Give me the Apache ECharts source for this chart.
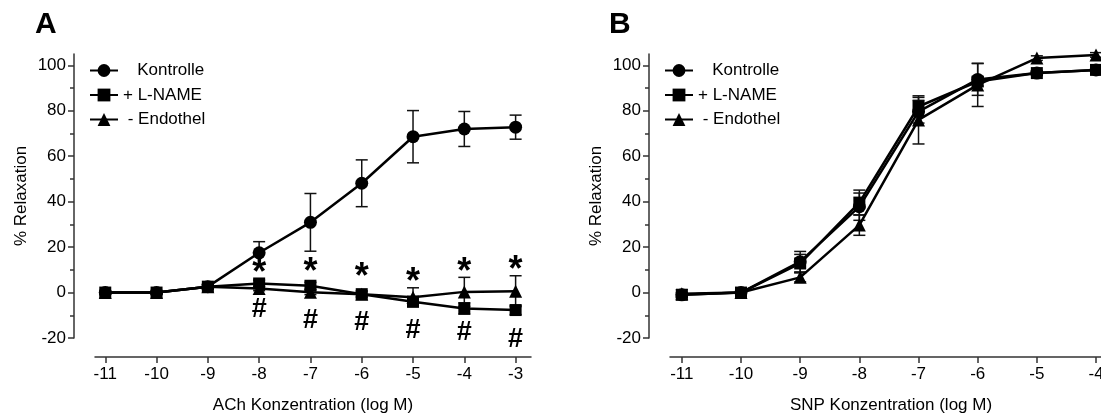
<!DOCTYPE html>
<html>
<head>
<meta charset="utf-8">
<script src="https://cdn.jsdelivr.net/npm/echarts@6/dist/echarts.min.js"></script>
<style>
  html, body { margin: 0; padding: 0; background: #fff; }
  #chart { width: 1101px; height: 414px; }
</style>
</head>
<body>
<div id="chart"></div>
<script>
// Panel A: ACh
const concA = [-11, -10, -9, -8, -7, -6, -5, -4, -3]
const kontrolleA = [0, 0, 2.6, 17.5, 30.9, 48.1, 68.6, 72.0, 72.8]
const kontrolleSemA = [0.5, 0.5, 1, 4.9, 12.7, 10.3, 11.5, 7.7, 5.3]
const lnameA = [0, 0, 2.6, 4.0, 3.0, -0.7, -4.0, -7.0, -7.7]
const lnameSemA = [0.5, 0.5, 1, 1.5, 1.5, 1.5, 1.5, 2.5, 2]
const endoA = [0, 0, 2.6, 1.8, 0.1, -0.7, -2.1, 0.3, 0.6]
const endoSemA = [0.5, 0.5, 1, 1, 1, 1, 4.2, 6.4, 6.8]
// significance marks (*, #)
const starX = [-8, -7, -6, -5, -4, -3]
const starY = [11.4, 11.8, 9.6, 7.3, 11.8, 12.6]
const hashY = [-7.0, -11.7, -12.9, -16.2, -17.3, -20.2]

// Panel B: SNP
const concB = [-11, -10, -9, -8, -7, -6, -5, -4]
const kontrolleB = [-1, 0, 13.6, 37.8, 79.6, 93.8, 96.6, 98.0]
const kontrolleSemB = [1, 0.5, 4.5, 6, 5, 7, 1, 1]
const lnameB = [-1, 0, 12.8, 39.6, 81.9, 92.9, 96.6, 98.0]
const lnameSemB = [1, 0.5, 4, 5.5, 4, 2, 1, 1]
const endoB = [-0.5, 0, 6.7, 29.7, 76.0, 91.4, 103.2, 104.6]
const endoSemB = [1.8, 0.5, 2, 4.5, 10.6, 9.5, 1, 1]

const yTicks = [-20, 0, 20, 40, 60, 80, 100]
const yMinorTicks = [-10, 10, 30, 50, 70, 90]
const xTicksA = [-11, -10, -9, -8, -7, -6, -5, -4, -3]
const xTicksB = [-11, -10, -9, -8, -7, -6, -5, -4]

const names = ['   Kontrolle', '+ L-NAME', ' - Endothel']
const font = 'Liberation Sans, Arial, sans-serif'

const pairs = (xs, ys) => xs.map((x, i) => [x, ys[i]])
const errData = (xs, ys, sem) => xs.map((x, i) => [x, ys[i] - sem[i], ys[i] + sem[i]])

const renderErr = (params, api) => {
  const lo = api.coord([api.value(0), api.value(1)])
  const hi = api.coord([api.value(0), api.value(2)])
  const w = 6
  const st = { stroke: '#111', lineWidth: 1.5 }
  return {
    type: 'group',
    children: [
      { type: 'line', shape: { x1: hi[0], y1: hi[1], x2: lo[0], y2: lo[1] }, style: st },
      { type: 'line', shape: { x1: hi[0] - w, y1: hi[1], x2: hi[0] + w, y2: hi[1] }, style: st },
      { type: 'line', shape: { x1: lo[0] - w, y1: lo[1], x2: lo[0] + w, y2: lo[1] }, style: st }
    ]
  }
}

const lineSeries = (name, symbol, size, data, axis) => ({
  name: name,
  type: 'line',
  xAxisIndex: axis,
  yAxisIndex: axis * 2,
  data: data,
  symbol: symbol,
  symbolSize: size,
  clip: false,
  lineStyle: { color: '#000', width: 2.5 },
  itemStyle: { color: '#000' },
  z: 5
})

const errSeries = (data, axis) => ({
  type: 'custom',
  xAxisIndex: axis,
  yAxisIndex: axis * 2,
  data: data,
  renderItem: renderErr,
  clip: false,
  silent: true,
  z: 3
})

// text marks placed through the axes
const markSeries = (xs, ys, text, size, dy) => ({
  type: 'custom',
  xAxisIndex: 0,
  yAxisIndex: 0,
  data: pairs(xs, ys),
  clip: false,
  silent: true,
  z: 6,
  renderItem: (params, api) => {
    const p = api.coord([api.value(0), api.value(1)])
    return {
      type: 'text',
      x: p[0],
      y: p[1] + dy,
      style: {
        text: text,
        fill: '#000',
        font: 'bold ' + size + 'px ' + font,
        align: 'center',
        verticalAlign: 'middle'
      }
    }
  }
})

const xAxis = (gi, min, max, ticks, title) => ({
  type: 'value',
  gridIndex: gi,
  min: min,
  max: max,
  offset: 19,
  name: title,
  nameLocation: 'middle',
  nameGap: 40,
  nameTextStyle: { color: '#000', fontFamily: font, fontSize: 17 },
  axisLine: { show: true, onZero: false, lineStyle: { color: '#333', width: 1.5 } },
  axisTick: { show: true, length: 6, customValues: ticks, lineStyle: { color: '#333', width: 1.5 } },
  axisLabel: { customValues: ticks, color: '#000', fontFamily: font, fontSize: 17, margin: 9 },
  splitLine: { show: false }
})

const yAxisMajor = (gi) => ({
  type: 'value',
  gridIndex: gi,
  position: 'left',
  min: -20,
  max: 105,
  offset: 21,
  name: '% Relaxation',
  nameLocation: 'middle',
  nameGap: 44,
  nameTextStyle: { color: '#000', fontFamily: font, fontSize: 17 },
  axisLine: { show: true, onZero: false, lineStyle: { color: '#333', width: 1.5 } },
  axisTick: { show: true, length: 6, customValues: yTicks, lineStyle: { color: '#333', width: 1.5 } },
  axisLabel: { customValues: yTicks, color: '#000', fontFamily: font, fontSize: 17, margin: 8 },
  splitLine: { show: false }
})

const yAxisMinor = (gi) => ({
  type: 'value',
  gridIndex: gi,
  position: 'left',
  min: -20,
  max: 105,
  offset: 21,
  axisLine: { show: false, onZero: false },
  axisTick: { show: true, length: 4, customValues: yMinorTicks, lineStyle: { color: '#333', width: 1.5 } },
  axisLabel: { show: false },
  splitLine: { show: false }
})

const legend = (left) => ({
  orient: 'vertical',
  left: left,
  top: 62,
  padding: 0,
  itemWidth: 28,
  itemHeight: 16,
  itemGap: 7.5,
  data: names,
  selectedMode: false,
  textStyle: { color: '#000', fontFamily: font, fontSize: 17 }
})

const option = {
  animation: false,
  backgroundColor: '#fff',
  graphic: [
    { type: 'text', left: 35, top: 10, style: { text: 'A', font: 'bold 30px ' + font, fill: '#000' } },
    { type: 'text', left: 609, top: 10, style: { text: 'B', font: 'bold 30px ' + font, fill: '#000' } }
  ],
  legend: [legend(89), legend(664)],
  grid: [
    { left: 95, top: 54, width: 436, height: 284, outerBoundsMode: 'none', containLabel: false },
    { left: 670, top: 54, width: 442, height: 284, outerBoundsMode: 'none', containLabel: false }
  ],
  xAxis: [
    xAxis(0, -11.2, -2.7, xTicksA, 'ACh Konzentration (log M)'),
    xAxis(1, -11.2, -3.73, xTicksB, 'SNP Konzentration (log M)')
  ],
  yAxis: [yAxisMajor(0), yAxisMinor(0), yAxisMajor(1), yAxisMinor(1)],
  series: [
    errSeries(errData(concA, kontrolleA, kontrolleSemA), 0),
    errSeries(errData(concA, endoA, endoSemA), 0),
    errSeries(errData(concA, lnameA, lnameSemA), 0),
    lineSeries(names[0], 'circle', 13, pairs(concA, kontrolleA), 0),
    lineSeries(names[2], 'triangle', 13, pairs(concA, endoA), 0),
    lineSeries(names[1], 'rect', 12, pairs(concA, lnameA), 0),
    markSeries(starX, starY, '*', 36, 7),
    markSeries(starX, hashY, '#', 27, 1),
    errSeries(errData(concB, kontrolleB, kontrolleSemB), 1),
    errSeries(errData(concB, endoB, endoSemB), 1),
    errSeries(errData(concB, lnameB, lnameSemB), 1),
    lineSeries(names[0], 'circle', 13, pairs(concB, kontrolleB), 1),
    lineSeries(names[2], 'triangle', 13, pairs(concB, endoB), 1),
    lineSeries(names[1], 'rect', 12, pairs(concB, lnameB), 1)
  ]
}

const chart = echarts.init(document.getElementById('chart'), null, { renderer: 'canvas' })
chart.setOption(option)
</script>
</body>
</html>
